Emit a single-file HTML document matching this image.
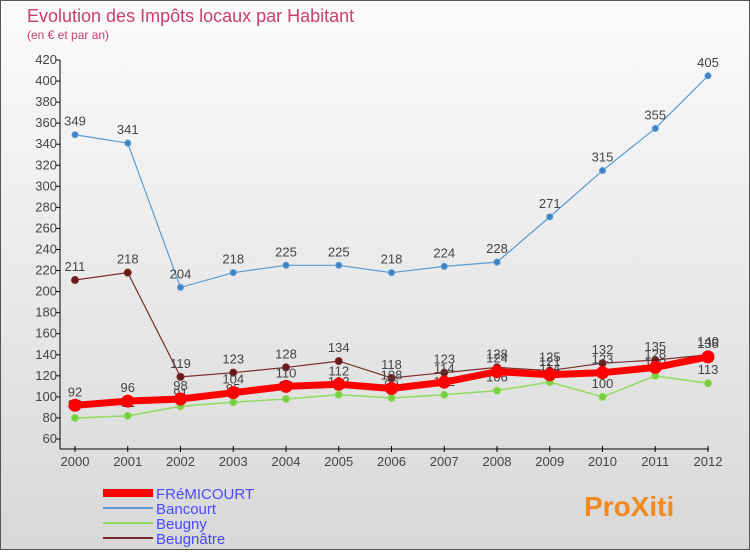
<!DOCTYPE html>
<html><head><meta charset="utf-8"><style>
body{margin:0;width:750px;height:550px;overflow:hidden;font-family:"Liberation Sans",sans-serif}
#wrap{position:relative;width:748px;height:548px;border:1px solid #555;background:linear-gradient(#fbfbfb,#d8d8d8)}
</style></head><body>
<div id="wrap">
<svg id="chart" width="748" height="548"></svg>
</div>
<script>
const years=[2000,2001,2002,2003,2004,2005,2006,2007,2008,2009,2010,2011,2012];
const fremicourt=[92,96,98,104,110,112,108,114,124,121,123,128,138];
const bancourt=[349,341,204,218,225,225,218,224,228,271,315,355,405];
const beugny=[80,82,91,95,98,102,99,102,106,114,100,120,113];
const beugnatre=[211,218,119,123,128,134,118,123,128,125,132,135,140];
const yTicks=[60,80,100,120,140,160,180,200,220,240,260,280,300,320,340,360,380,400,420];
const NS="http://www.w3.org/2000/svg";
const svg=document.getElementById('chart');
const X=i=>74+i*(633/12);
const Y=v=>438-(v-60)*(379/360);
function mk(t,a,txt){const e=document.createElementNS(NS,t);for(const k in a)e.setAttribute(k,a[k]);if(txt!==undefined)e.textContent=txt;svg.appendChild(e);return e;}
let e;
e=mk('text',{x:26,y:21,'font-size':18,fill:'#c8406a'},'Evolution des Impôts locaux par Habitant');

e=mk('text',{x:26,y:38,'font-size':12,fill:'#c8406a'},'(en € et par an)');

e=mk('line',{x1:59,y1:59,x2:59,y2:448,stroke:'#000'});

e=mk('line',{x1:59,y1:448,x2:708,y2:448,stroke:'#000'});

yTicks.forEach(v=>{
 e=mk('line',{x1:55,y1:Y(v),x2:59,y2:Y(v),stroke:'#000'});
 
 e=mk('text',{x:56,y:Y(v)+4,'font-size':13,fill:'#444','text-anchor':'end'},v);
 
});
years.forEach((yr,i)=>{
 e=mk('line',{x1:X(i),y1:445,x2:X(i),y2:451,stroke:'#000'});
 
 e=mk('text',{x:X(i),y:465,'font-size':13,fill:'#444','text-anchor':'middle'},yr);
 
});
function series(data,color,w,r,name,dot){
 const pts=data.map((v,i)=>X(i)+','+Y(v)).join(' ');
 e=mk('polyline',{points:pts,fill:'none',stroke:color,'stroke-width':w});
 
 data.forEach((v,i)=>{
  e=mk('circle',{cx:X(i),cy:Y(v),r:r,fill:dot,stroke:color,'stroke-width':1});
  
  e=mk('text',{x:X(i),y:Y(v)-9,'font-size':13,fill:'#444','text-anchor':'middle'},v);
  
 });
}
series(bancourt,'#5b9bd0',1.2,3,'bancourt','#3d82c4');
series(beugny,'#8fdc60',1.5,3.5,'beugny','#7acc40');
series(beugnatre,'#7a2a2a',1.2,3.5,'beugnatre','#6a1a1a');
series(fremicourt,'#ff0000',7,6,'fremicourt','#ff0000');
const leg=[['FRéMICOURT','#ff0000',8],['Bancourt','#5b9bd0',2],['Beugny','#8fdc60',2],['Beugnâtre','#7a2a2a',2]];
leg.forEach((l,i)=>{
 const y=492+i*15;
 e=mk('line',{x1:102,y1:y,x2:152,y2:y,stroke:l[1],'stroke-width':l[2]});
 
 e=mk('text',{x:155,y:y+6,'font-size':15,fill:'#4a4aff'},l[0]);
 
});
e=mk('text',{x:583,y:515,'font-size':28,'font-weight':'bold',fill:'#f08a20'},'ProXiti');

</script>
</body></html>
